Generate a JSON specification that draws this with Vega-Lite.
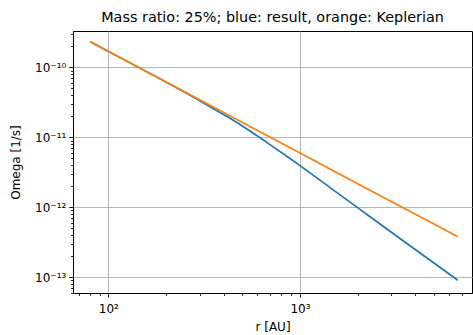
{
  "$schema": "https://vega.github.io/schema/vega-lite/v6.json",
  "width": 399,
  "height": 262,
  "autosize": {"type": "none"},
  "padding": {"left": 73, "top": 31, "right": 1, "bottom": 42},
  "background": "white",
  "title": {
    "text": "Mass ratio: 25%; blue: result, orange: Keplerian",
    "font": "DejaVu Sans",
    "fontSize": 14.4,
    "fontWeight": "normal",
    "color": "black",
    "anchor": "middle",
    "frame": "group",
    "baseline": "bottom",
    "offset": 4,
    "dy": 15
  },
  "data": {
    "values": [
      {"series": "result", "r": 80.5, "omega": 2.321e-10},
      {"series": "result", "r": 165.0, "omega": 8.18e-11},
      {"series": "result", "r": 209.9, "omega": 5.737e-11},
      {"series": "result", "r": 266.9, "omega": 3.995e-11},
      {"series": "result", "r": 339.3, "omega": 2.736e-11},
      {"series": "result", "r": 431.3, "omega": 1.868e-11},
      {"series": "result", "r": 548.6, "omega": 1.23e-11},
      {"series": "result", "r": 697.4, "omega": 7.866e-12},
      {"series": "result", "r": 886.9, "omega": 4.979e-12},
      {"series": "result", "r": 1000, "omega": 3.942e-12},
      {"series": "result", "r": 1434, "omega": 1.912e-12},
      {"series": "result", "r": 2055.7, "omega": 9.333e-13},
      {"series": "result", "r": 3323, "omega": 3.584e-13},
      {"series": "result", "r": 6648, "omega": 9.09e-14},
      {"series": "Keplerian", "r": 80.5, "omega": 2.321e-10},
      {"series": "Keplerian", "r": 165.0, "omega": 8.18e-11},
      {"series": "Keplerian", "r": 339.3, "omega": 2.87e-11},
      {"series": "Keplerian", "r": 1000, "omega": 5.95e-12},
      {"series": "Keplerian", "r": 2055.7, "omega": 2.09e-12},
      {"series": "Keplerian", "r": 6648, "omega": 3.8e-13}
    ]
  },
  "mark": {"type": "line", "strokeWidth": 1.7, "interpolate": "monotone", "clip": true},
  "encoding": {
    "x": {
      "field": "r",
      "type": "quantitative",
      "scale": {"type": "log", "domain": [65.44, 7892], "nice": false},
      "axis": {
        "title": "r [AU]",
        "values": [70, 80, 90, 100, 200, 300, 400, 500, 600, 700, 800, 900, 1000, 2000, 3000, 4000, 5000, 6000, 7000],
        "labelExpr": "datum.value == 100 ? '10²' : datum.value == 1000 ? '10³' : ''",
        "tickSize": {"condition": {"test": "datum.value == 100 || datum.value == 1000", "value": 4.2}, "value": 2.4},
        "gridOpacity": {"condition": {"test": "datum.value == 100 || datum.value == 1000", "value": 1}, "value": 0},
        "labelPadding": 6.5,
        "titlePadding": 7,
        "labelFlush": false,
        "labelOverlap": false
      }
    },
    "y": {
      "field": "omega",
      "type": "quantitative",
      "scale": {"type": "log", "domain": [5.965e-14, 3.301e-10], "nice": false},
      "axis": {
        "title": "Omega [1/s]",
        "values": [6e-14, 7e-14, 8e-14, 9e-14, 1e-13, 2e-13, 3e-13, 4e-13, 5e-13, 6e-13, 7e-13, 8e-13, 9e-13, 1e-12, 2e-12, 3e-12, 4e-12, 5e-12, 6e-12, 7e-12, 8e-12, 9e-12, 1e-11, 2e-11, 3e-11, 4e-11, 5e-11, 6e-11, 7e-11, 8e-11, 9e-11, 1e-10, 2e-10, 3e-10],
        "labelExpr": "datum.value == 1e-10 ? '10⁻¹⁰' : datum.value == 1e-11 ? '10⁻¹¹' : datum.value == 1e-12 ? '10⁻¹²' : datum.value == 1e-13 ? '10⁻¹³' : ''",
        "tickSize": {"condition": {"test": "datum.value == 1e-10 || datum.value == 1e-11 || datum.value == 1e-12 || datum.value == 1e-13", "value": 4.2}, "value": 2.4},
        "gridOpacity": {"condition": {"test": "datum.value == 1e-10 || datum.value == 1e-11 || datum.value == 1e-12 || datum.value == 1e-13", "value": 1}, "value": 0},
        "labelPadding": 3,
        "titlePadding": 12,
        "labelFlush": false,
        "labelOverlap": false
      }
    },
    "color": {
      "field": "series",
      "type": "nominal",
      "scale": {"domain": ["result", "Keplerian"], "range": ["#1f77b4", "#ff7f0e"]},
      "legend": null
    }
  },
  "config": {
    "view": {"stroke": "black", "strokeWidth": 1},
    "axis": {
      "domainColor": "black",
      "domainWidth": 1,
      "tickColor": "black",
      "tickWidth": 0.9,
      "grid": true,
      "gridColor": "#b0b0b0",
      "gridWidth": 0.9,
      "labelColor": "black",
      "labelFont": "DejaVu Sans",
      "labelFontSize": 12,
      "titleColor": "black",
      "titleFont": "DejaVu Sans",
      "titleFontSize": 12,
      "titleFontWeight": "normal"
    }
  }
}
